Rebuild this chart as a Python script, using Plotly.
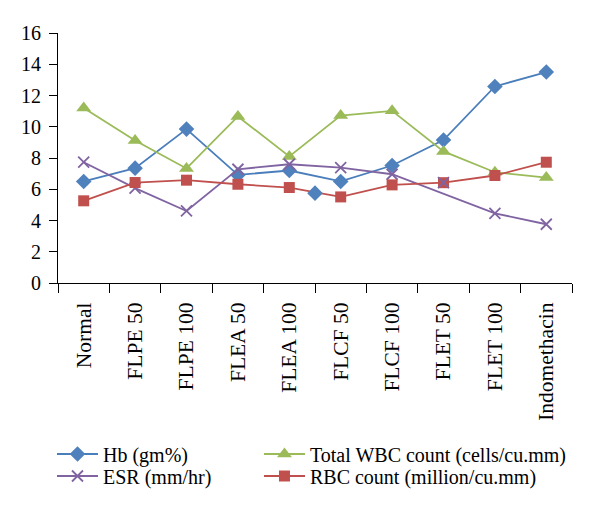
import plotly.graph_objects as go

categories = ["Normal", "FLPE 50", "FLPE 100", "FLEA 50", "FLEA 100",
              "FLCF 50", "FLCF 100", "FLET 50", "FLET 100", "Indomethacin"]

hb = [6.5, 7.35, 9.85, 6.92, 7.2, 6.5, 7.52, 9.15, 12.58, 13.5]
wbc = [11.2, 9.12, 7.33, 10.66, 8.1, 10.72, 11.02, 8.42, 7.09, 6.75]
esr = [7.73, 6.07, 4.61, 7.28, 7.6, 7.39, 6.96, None, 4.46, 3.76]
rbc = [5.26, 6.43, 6.58, 6.32, 6.11, 5.51, 6.28, 6.42, 6.88, 7.73]

# stray markers present in the original figure
hb_stray_pos = [4.5]      # between "FLEA 100" and "FLCF 50"
hb_stray_val = [5.75]
esr_extra_cat = ["FLET 50"]
esr_extra_val = [6.42]

FONT = "Liberation Serif"
BLUE, GREEN, PURPLE, RED = "#4a7ebb", "#9bbb59", "#8064a2", "#c0504d"

fig = go.Figure()

fig.add_trace(go.Scatter(x=categories, y=hb, name="Hb (gm%)", mode="lines+markers",
                         line=dict(color=BLUE, width=1.8),
                         marker=dict(symbol="diamond", size=12, color="#4f81bd"),
                         legend="legend"))
fig.add_trace(go.Scatter(x=categories, y=wbc, name="Total WBC count (cells/cu.mm)",
                         mode="lines+markers", line=dict(color=GREEN, width=1.8),
                         marker=dict(symbol="triangle-up", size=13, color=GREEN),
                         legend="legend2"))
fig.add_trace(go.Scatter(x=categories, y=esr, name="ESR (mm/hr)", mode="lines+markers",
                         connectgaps=True, line=dict(color=PURPLE, width=1.8),
                         marker=dict(symbol="x-thin", size=11,
                                     line=dict(color=PURPLE, width=1.8)),
                         legend="legend3"))
fig.add_trace(go.Scatter(x=categories, y=rbc, name="RBC count (million/cu.mm)",
                         mode="lines+markers", line=dict(color=RED, width=1.8),
                         marker=dict(symbol="square", size=11, color=RED),
                         legend="legend4"))
fig.add_trace(go.Scatter(x=esr_extra_cat, y=esr_extra_val, mode="markers",
                         showlegend=False,
                         marker=dict(symbol="x-thin", size=11,
                                     line=dict(color=PURPLE, width=1.8))))
fig.add_trace(go.Scatter(x=hb_stray_pos, y=hb_stray_val, mode="markers",
                         xaxis="x2", yaxis="y", showlegend=False,
                         marker=dict(symbol="diamond", size=12, color="#4f81bd")))

leg_common = dict(font=dict(family=FONT, size=20, color="black"),
                  xref="paper", yref="paper", xanchor="left",
                  yanchor="middle", itemwidth=41, bgcolor="rgba(0,0,0,0)")

fig.update_layout(
    width=600, height=516,
    margin=dict(l=50, r=36, t=25, b=241),
    paper_bgcolor="white", plot_bgcolor="white",
    font=dict(family=FONT, size=20, color="black"),
    showlegend=True,
    legend=dict(x=-0.0117, y=-0.684, **leg_common),
    legend2=dict(x=0.391, y=-0.684, **leg_common),
    legend3=dict(x=-0.0117, y=-0.772, **leg_common),
    legend4=dict(x=0.391, y=-0.772, **leg_common),
    xaxis=dict(type="category", categoryorder="array", categoryarray=categories,
               range=[-0.5, 9.5], tickson="boundaries", ticks="outside",
               ticklen=9, tickwidth=1, tickcolor="black", showline=True,
               linecolor="black", linewidth=1, showgrid=False, tickangle=-90,
               ticklabelstandoff=10,
               tickfont=dict(family=FONT, size=21.5, color="black")),
    xaxis2=dict(type="linear", overlaying="x", anchor="y", range=[-0.5, 9.5],
                visible=False, showgrid=False, zeroline=False),
    yaxis=dict(range=[0, 16], tickvals=[0, 2, 4, 6, 8, 10, 12, 14, 16],
               ticks="outside", ticklen=8, tickwidth=1, tickcolor="black",
               showline=True, linecolor="black", linewidth=1, showgrid=False,
               zeroline=False, ticklabelstandoff=4,
               tickfont=dict(family=FONT, size=20, color="black")),
)

fig.write_html("out.html")
